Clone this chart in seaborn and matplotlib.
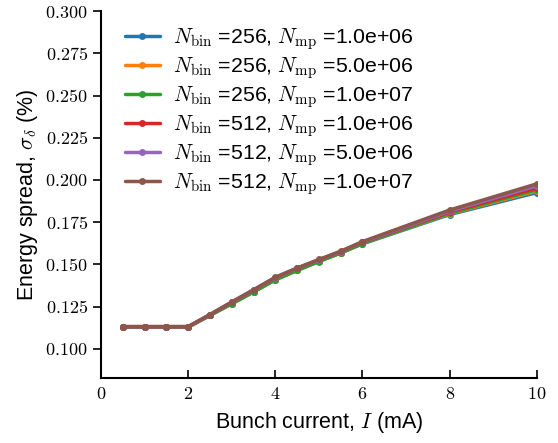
import numpy as np
import pandas as pd
import matplotlib
matplotlib.use("Agg")
import matplotlib.pyplot as plt
from matplotlib.ticker import FuncFormatter, MultipleLocator
import seaborn as sns

current = [0.5, 1.0, 1.5, 2.0, 2.5, 3.0, 3.5, 4.0, 4.5, 5.0, 5.5, 6.0, 8.0, 10.0]
labels = [
    r"$N_\mathrm{bin}$ =256, $N_\mathrm{mp}$ =1.0e+06",
    r"$N_\mathrm{bin}$ =256, $N_\mathrm{mp}$ =5.0e+06",
    r"$N_\mathrm{bin}$ =256, $N_\mathrm{mp}$ =1.0e+07",
    r"$N_\mathrm{bin}$ =512, $N_\mathrm{mp}$ =1.0e+06",
    r"$N_\mathrm{bin}$ =512, $N_\mathrm{mp}$ =5.0e+06",
    r"$N_\mathrm{bin}$ =512, $N_\mathrm{mp}$ =1.0e+07",
]
spread_256_1e6 = [0.1128, 0.1128, 0.1128, 0.1128, 0.1198, 0.1268, 0.1338, 0.1410, 0.1465, 0.1518, 0.1568, 0.1622, 0.1795, 0.1925]
spread_256_5e6 = [0.1129, 0.1129, 0.1129, 0.1129, 0.1199, 0.1269, 0.1339, 0.1411, 0.1466, 0.1519, 0.1569, 0.1624, 0.1800, 0.1935]
spread_256_1e7 = [0.1129, 0.1129, 0.1129, 0.1129, 0.1198, 0.1266, 0.1336, 0.1408, 0.1464, 0.1517, 0.1567, 0.1623, 0.1803, 0.1942]
spread_512_1e6 = [0.1131, 0.1131, 0.1131, 0.1131, 0.1202, 0.1275, 0.1347, 0.1420, 0.1476, 0.1526, 0.1575, 0.1630, 0.1810, 0.1952]
spread_512_5e6 = [0.1131, 0.1131, 0.1131, 0.1131, 0.1202, 0.1276, 0.1348, 0.1421, 0.1477, 0.1527, 0.1576, 0.1632, 0.1815, 0.1965]
spread_512_1e7 = [0.1132, 0.1132, 0.1132, 0.1132, 0.1203, 0.1278, 0.1350, 0.1424, 0.1479, 0.1529, 0.1578, 0.1635, 0.1822, 0.1977]
series = [spread_256_1e6, spread_256_5e6, spread_256_1e7,
          spread_512_1e6, spread_512_5e6, spread_512_1e7]

df = pd.DataFrame({
    "current": np.tile(current, len(labels)),
    "spread": np.concatenate(series),
    "label": np.repeat(labels, len(current)),
})

sns.set_style("ticks")
plt.rcParams["font.family"] = ["Liberation Sans", "DejaVu Sans"]
plt.rcParams["mathtext.fontset"] = "cm"
for k in ["text.color", "axes.labelcolor", "xtick.color", "ytick.color", "axes.edgecolor"]:
    plt.rcParams[k] = "black"

fig = plt.figure(figsize=(5.58, 4.43), dpi=100)
ax = fig.add_axes([0.181, 0.147, 0.781, 0.828])

palette = sns.color_palette("tab10", 6)
sns.lineplot(data=df, x="current", y="spread", hue="label", hue_order=labels,
             palette=palette, marker="o", markersize=5, markeredgewidth=0,
             linewidth=2.5, ax=ax)

ax.set_xlim(0, 10)
ax.set_ylim(0.0828, 0.300)
ax.xaxis.set_major_locator(MultipleLocator(2))
ax.yaxis.set_major_locator(MultipleLocator(0.025))
ax.xaxis.set_major_formatter(FuncFormatter(lambda v, p: f"${v:g}$"))
ax.yaxis.set_major_formatter(FuncFormatter(lambda v, p: f"${v:.3f}$"))
ax.tick_params(axis="x", direction="in", length=6, width=1.2, labelsize=13, pad=6)
ax.tick_params(axis="y", direction="out", length=6, width=1.2, labelsize=13)
for s in ["top", "right"]:
    ax.spines[s].set_visible(False)
for s in ["left", "bottom"]:
    ax.spines[s].set_linewidth(1.5)

ax.set_xlabel(r"Bunch current, $I$ (mA)", fontsize=15.5, labelpad=5)
ax.set_ylabel(r"Energy spread, $\sigma_\delta$ (%)", fontsize=15.5)

leg = ax.legend(loc="upper left", bbox_to_anchor=(0.02, 1.0), frameon=False,
                fontsize=15.3, handlelength=1.65, handletextpad=0.65,
                labelspacing=0.15, borderpad=0.2, title=None)

fig.savefig("out.png", dpi=100)
